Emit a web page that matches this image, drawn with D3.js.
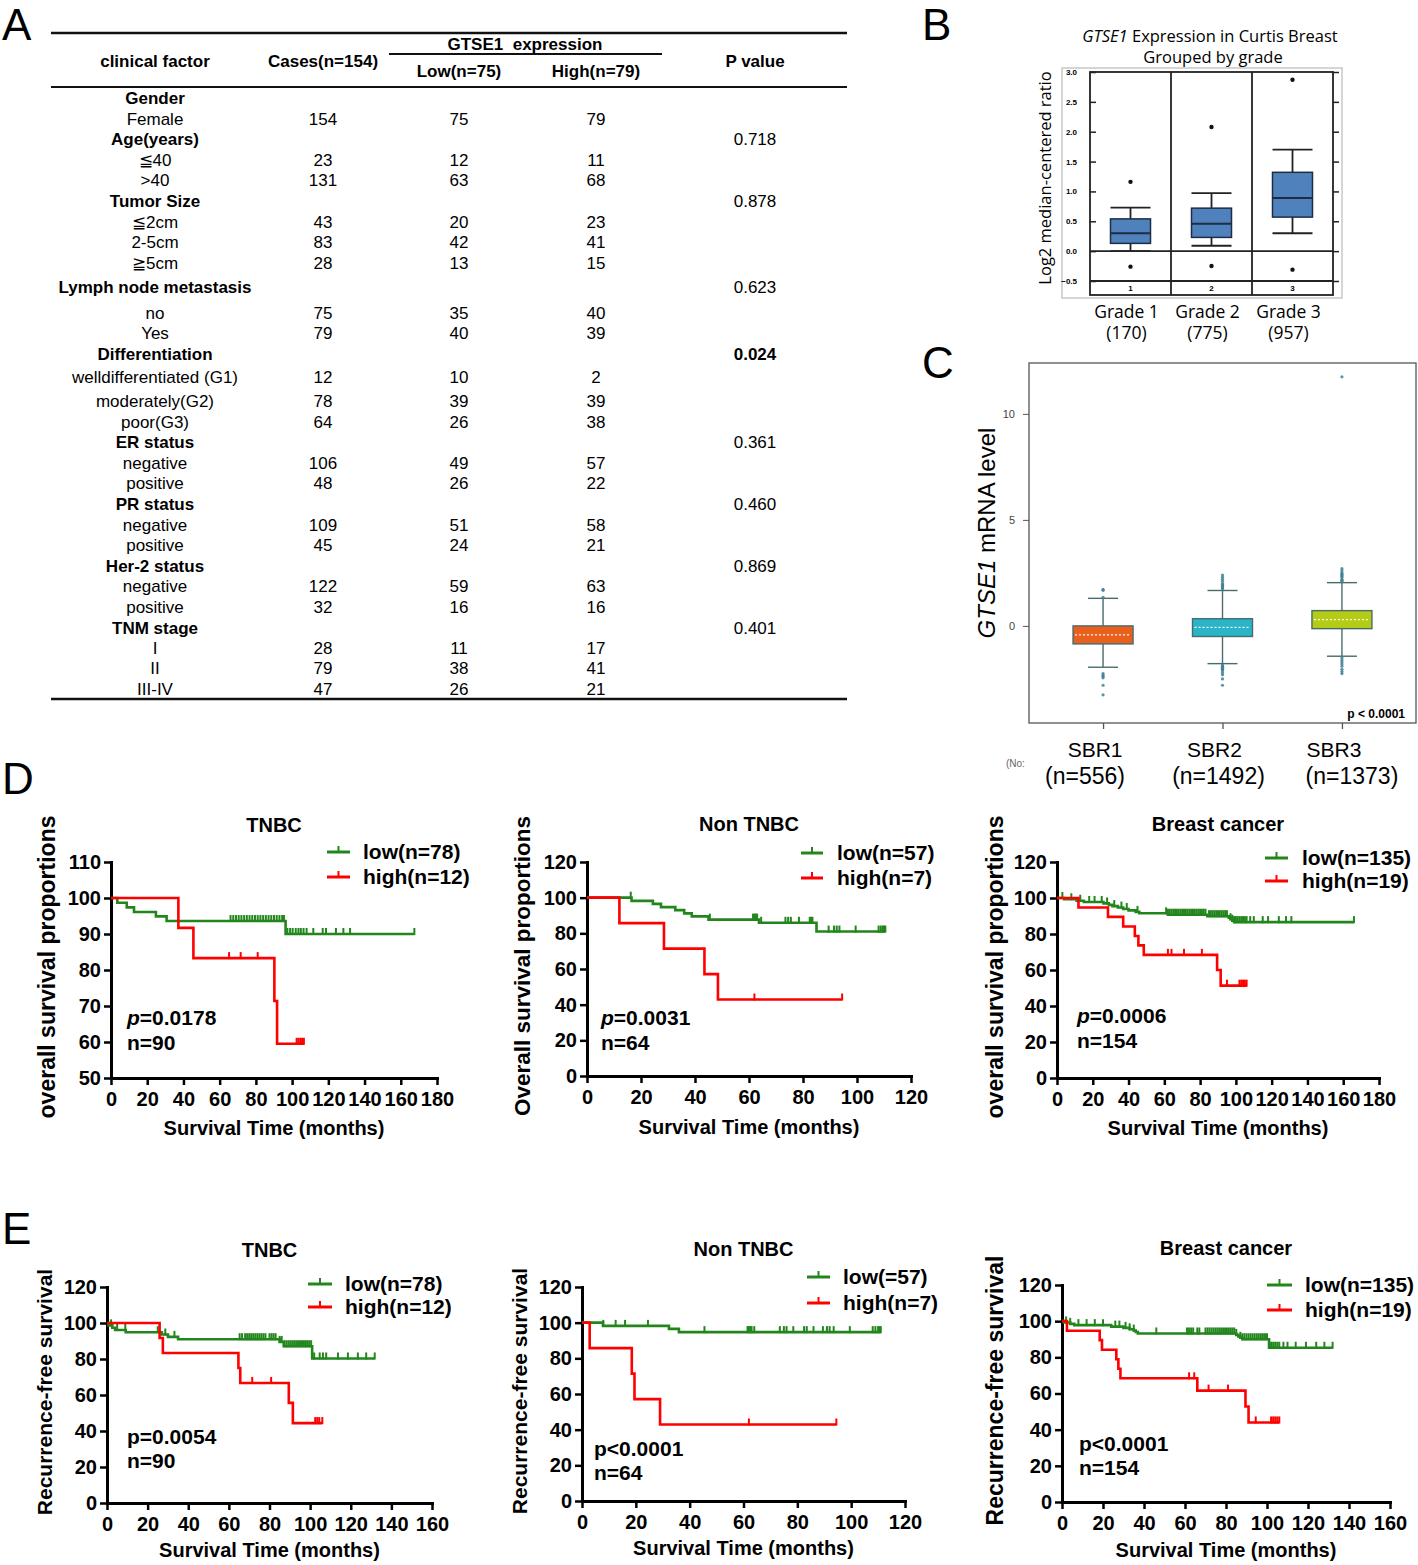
<!DOCTYPE html>
<html>
<head>
<meta charset="utf-8">
<script src="https://cdn.jsdelivr.net/npm/d3@7/dist/d3.min.js"></script>
<style>
  body { margin: 0; background: #fff; }
  svg { display: block; }
</style>
</head>
<body>
<svg width="1418" height="1565"></svg>
<script>
// ---------- panel A : clinical table ----------
var tableHeaders = ["clinical factor", "Cases(n=154)", "GTSE1\u00a0\u00a0expression", "Low(n=75)", "High(n=79)", "P value"];
var factorLabels = ["Gender","Female","Age(years)","\u226640",">40","Tumor Size","\u22662cm","2-5cm","\u22675cm",
  "Lymph node metastasis","no","Yes","Differentiation","welldifferentiated (G1)","moderately(G2)","poor(G3)",
  "ER status","negative","positive","PR status","negative","positive","Her-2 status","negative","positive",
  "TNM stage","I","II","III-IV"];
var factorIsGroup = [1,0,1,0,0,1,0,0,0,1,0,0,1,0,0,0,1,0,0,1,0,0,1,0,0,1,0,0,0];
var casesCol = ["","154","","23","131","","43","83","28","","75","79","","12","78","64","","106","48","","109","45","","122","32","","28","79","47"];
var lowCol   = ["","75","","12","63","","20","42","13","","35","40","","10","39","26","","49","26","","51","24","","59","16","","11","38","26"];
var highCol  = ["","79","","11","68","","23","41","15","","40","39","","2","39","38","","57","22","","58","21","","63","16","","17","41","21"];
var pValues  = ["","","0.718","","","0.878","","","","0.623","","","0.024","","","","0.361","","","0.460","","","0.869","","","0.401","","",""];

// ---------- panel B : Curtis breast, grouped by grade ----------
var gradeNames  = ["1", "2", "3"];
var gradeLabels = ["Grade 1", "Grade 2", "Grade 3"];
var gradeCounts = ["(170)", "(775)", "(957)"];
var gradeQ1  = [0.13, 0.23, 0.57];
var gradeMed = [0.30, 0.46, 0.89];
var gradeQ3  = [0.54, 0.72, 1.32];
var gradeLo  = [0.00, 0.09, 0.30];
var gradeHi  = [0.73, 0.97, 1.70];
var gradeOut = [[1.16, -0.26], [2.08, -0.25], [2.87, -0.31]];

// ---------- panel C : SBR grade ----------
var sbrLabels = ["SBR1", "SBR2", "SBR3"];
var sbrCounts = ["(n=556)", "(n=1492)", "(n=1373)"];
var sbrQ1  = [-0.85, -0.50, -0.13];
var sbrMed = [-0.42, -0.07, 0.30];
var sbrQ3  = [0.00, 0.34, 0.72];
var sbrLo  = [-1.95, -1.78, -1.43];
var sbrHi  = [1.30, 1.67, 2.04];
var sbrOut = [
  [1.72, 1.68, 1.35, -2.25, -2.32, -2.38, -2.45, -2.8, -3.25],
  [1.75, 1.8, 1.85, 1.9, 1.95, 2.0, 2.1, 2.2, 2.3, 2.4, -1.85, -1.9, -1.95, -2.0, -2.05, -2.1, -2.2, -2.3, -2.5, -2.8],
  [2.1, 2.15, 2.2, 2.3, 2.35, 2.4, 2.45, 2.5, 2.6, 2.7, 11.75, -1.5, -1.6, -1.7, -1.8, -1.9, -2.05, -2.15, -2.25]
];
var sbrColors = ["#e8601c", "#29b4c8", "#b4cc16"];

// ---------- panels D / E : Kaplan-Meier ----------
// drops: [month, survival % after the event]; cens: censored months
var osTnbcLowDrops  = [[3.5,98.7],[8.7,97.4],[12.7,96.1],[24.8,94.9],[30.7,93.6],[96.4,90.0]];
var osTnbcLowCens   = [66,67.5,69,70.5,72,73.5,75,76.5,78,79.5,81,82.5,84,85.5,87,88.5,90,91.5,93,94.5,95.5,
                       97.4,98.9,100.3,102,103.5,104.8,106.3,108,111.7,116.9,118.7,124.2,128.3,132,167.5];
var osTnbcHighDrops = [[37.2,91.7],[45.5,83.3],[90.2,71.4],[91.7,59.5]];
var osTnbcHighCens  = [65.2,71.6,81,102.5,103.5,104.5,105.5,106.5];

var osNonLowDrops   = [[16.5,98.2],[24.4,96.5],[27.4,94.7],[32.7,93.0],[36,91.2],[38.8,89.5],[45,87.7],[63.7,85.9],[85,81.0]];
var osNonLowCens    = [16.2,45.5,61.5,62,62.5,63,64.5,73.5,74.5,75.5,78.5,82.5,83,83.5,89.5,91.5,92.5,93.5,99.5,108,108.8,109.5,110,110.5];
var osNonHighDrops  = [[12,85.7],[28.5,71.4],[43.5,57.1],[48.5,42.9]];
var osNonHighCens   = [62,94.5];

var osAllLowDrops   = [[4,99.3],[11,98.5],[15,97.8],[26,97.0],[29,96.2],[31,95.5],[34,94.7],[37,93.9],[40,93.1],[44,92.3],
                       [46,91.5],[62,90.7],[84,89.9],[96,89.0],[97,88.2],[98,87.4],[99,86.6]];
var osAllLowCens    = [3,8,13,18,21,25,28,32,36,39,45,61,62,63,64,65,66,67,68,69,70,71,72,73,74,75,76,77,78,79,80,81,82,83,
                       85,86,87,88,89,90,91,92,93,94,95,97,98,99,100,101,102,103,104,105,106,108,110,115,118,124,128,131,166];
var osAllHighDrops  = [[12,94.7],[28.5,89.5],[37,84.2],[43.5,78.9],[45.5,73.7],[48.5,68.4],[89.5,60.0],[91.5,51.3]];
var osAllHighCens   = [62,64,71,81,95,102,103,104,105,106];

var rfsTnbcLowDrops  = [[0.8,98.7],[2.6,97.4],[4,96.1],[9.2,94.9],[27,93.6],[30,92.3],[35,91.0],[85,89.5],[87,87.1],[101,80.3]];
var rfsTnbcLowCens   = [2,5,9,25,28.7,33.2,65.3,66.5,68,69,70,71,72,73,74,75,76,77,78,80,81,82,83,85,86,87.5,88.5,89.5,
                        90.5,91.5,92.5,93.5,94.5,95.5,96.5,97.5,98.5,99.5,100.5,102,104.7,106.3,107.9,113.7,118.6,123.5,127.6,131.8];
var rfsTnbcHighDrops = [[25.9,91.7],[27.5,83.3],[64.7,75.0],[65.6,66.7],[89.5,55.6],[91.5,44.4]];
var rfsTnbcHighCens  = [71.5,80.8,102.5,103.5,104.5,106];

var rfsNonLowDrops   = [[7.8,98.2],[32.3,96.5],[36,94.7]];
var rfsNonLowCens    = [7.9,12.5,16,24.5,45.5,61.5,62,62.5,63,64,73.5,75,76,78.5,82.5,83.5,86,89.5,91,92,93.5,99.5,108,109,110,110.5,111];
var rfsNonHighDrops  = [[2.85,85.7],[18.5,71.4],[19.5,57.1],[29,42.9]];
var rfsNonHighCens   = [62,94.5];

var rfsAllLowDrops   = [[1,99.3],[4,98.5],[6,97.8],[24,97.0],[30,96.3],[33,95.5],[35,94.8],[36,94.0],[37,93.2],
                        [85,92.4],[86,91.6],[87,90.8],[88,90.0],[101,85.3]];
var rfsAllLowCens    = [2,4,8,12,16,20,26,28,31,33,35,46,61,62,63,64,66,67,70,71,72,73,74,75,76,77,78,79,80,81,82,83,84,85,
                        87,88,89,90,91,92,93,94,95,96,97,98,99,100,102,103,104,105,106,108,110,114,119,124,128,132];
var rfsAllHighDrops  = [[2.4,94.7],[18.4,89.5],[19.5,84.2],[26.5,78.9],[27.5,73.7],[28.5,68.4],[66,61.6],[89.5,52.8],[91,44.0]];
var rfsAllHighCens   = [62,64.5,71.5,81,94.5,102,103,104,105,106];

var kmTitles     = ["TNBC", "Non TNBC", "Breast cancer", "TNBC", "Non TNBC", "Breast cancer"];
var kmYLabels    = ["overall survival proportions", "Overall survival proportions", "overall survival proportions",
                    "Recurrence-free survival", "Recurrence-free survival", "Recurrence-free survival"];
var kmPText      = ["=0.0178", "=0.0031", "=0.0006", "=0.0054", "<0.0001", "<0.0001"];
var kmNText      = ["n=90", "n=64", "n=154", "n=90", "n=64", "n=154"];
var kmLowLabels  = ["low(n=78)", "low(n=57)", "low(n=135)", "low(n=78)", "low(=57)", "low(n=135)"];
var kmHighLabels = ["high(n=12)", "high(n=7)", "high(n=19)", "high(n=12)", "high(n=7)", "high(n=19)"];
var kmXMax       = [180, 120, 180, 160, 120, 160];
var kmYMin       = [50, 0, 0, 0, 0, 0];
var kmYMax       = [110, 120, 120, 120, 120, 120];
var kmYStep      = [10, 20, 20, 20, 20, 20];

var svg = d3.select("svg");
var FONT = "'Liberation Sans', Arial, Helvetica, sans-serif";
var SOFT = "'Open Sans', 'Noto Sans', sans-serif";
var GREEN = "#22861c", RED = "#ff0000";

// panel letters
var panelLetters = ["A", "B", "C", "D", "E"];
var letterPos = [[2, 40], [922, 40], [922, 378], [2, 794], [2, 1244]];
svg.selectAll("text.letter")
    .data(panelLetters)
  .enter().append("text")
    .attr("class", "letter")
    .attr("x", function(d, i) { return letterPos[i][0]; })
    .attr("y", function(d, i) { return letterPos[i][1]; })
    .attr("font-family", FONT)
    .attr("font-size", 44)
    .text(function(d) { return d; });

drawTable();
drawGrades();
drawSBR();

// layout of the six survival plots
var kmFrames = [
  {left: 111,  right: 437,  top: 862,  bottom: 1078, leg: [327, 350, 363, 852, 877],   stat: [127, 1018, 1043],  yl: [47, 23],  titleY: 825,  xlY: 1128, italicP: true},
  {left: 587,  right: 911,  top: 862,  bottom: 1076, leg: [801, 823, 837, 853, 878],   stat: [601, 1018, 1043],  yl: [522, 22.5], titleY: 824, xlY: 1127, italicP: true},
  {left: 1057, right: 1379, top: 862,  bottom: 1078, leg: [1265, 1288, 1302, 858, 881], stat: [1077, 1016, 1041], yl: [995, 23], titleY: 824,  xlY: 1128, italicP: true},
  {left: 107,  right: 432,  top: 1287, bottom: 1503, leg: [308, 332, 345, 1284, 1307], stat: [127, 1437, 1461],  yl: [45, 21],  titleY: 1250, xlY: 1550, italicP: false},
  {left: 582,  right: 905,  top: 1287, bottom: 1501, leg: [807, 830, 843, 1277, 1303], stat: [594, 1449, 1473],  yl: [520, 21], titleY: 1249, xlY: 1548, italicP: false},
  {left: 1062, right: 1390, top: 1285, bottom: 1502, leg: [1267, 1292, 1305, 1285, 1310], stat: [1079, 1444, 1468], yl: [995, 23], titleY: 1248, xlY: 1550, italicP: false}
];
var kmCurves = [
  [[osTnbcLowDrops, osTnbcLowCens], [osTnbcHighDrops, osTnbcHighCens]],
  [[osNonLowDrops, osNonLowCens], [osNonHighDrops, osNonHighCens]],
  [[osAllLowDrops, osAllLowCens], [osAllHighDrops, osAllHighCens]],
  [[rfsTnbcLowDrops, rfsTnbcLowCens], [rfsTnbcHighDrops, rfsTnbcHighCens]],
  [[rfsNonLowDrops, rfsNonLowCens], [rfsNonHighDrops, rfsNonHighCens]],
  [[rfsAllLowDrops, rfsAllLowCens], [rfsAllHighDrops, rfsAllHighCens]]
];
kmFrames.forEach(function(f, i) { drawKM(f, i); });

function drawTable() {
  var tableRowY = [98,119,139,160,180,201,222,242,263,287,313,333,354,377,401,422,442,463,483,504,525,545,566,586,607,628,648,668,689];
  var colX = [155, 323, 459, 596, 755];
  var tg = svg.append("g")
      .attr("font-family", FONT)
      .attr("font-size", 17)
      .attr("text-anchor", "middle");

  var rules = [[51, 847, 33, 2.5], [389, 662, 54, 2], [51, 847, 87, 2], [51, 847, 699, 2.5]];
  tg.selectAll("line.rule")
      .data(rules)
    .enter().append("line")
      .attr("x1", function(d) { return d[0]; })
      .attr("x2", function(d) { return d[1]; })
      .attr("y1", function(d) { return d[2]; })
      .attr("y2", function(d) { return d[2]; })
      .attr("stroke", "#111")
      .attr("stroke-width", function(d) { return d[3]; });

  var headPos = [[155, 67], [323, 67], [525, 50], [459, 77], [596, 77], [755, 67]];
  tg.selectAll("text.head")
      .data(tableHeaders)
    .enter().append("text")
      .attr("x", function(d, i) { return headPos[i][0]; })
      .attr("y", function(d, i) { return headPos[i][1]; })
      .attr("font-weight", "bold")
      .text(function(d) { return d; });

  factorLabels.forEach(function(lab, i) {
    var cells = [lab, casesCol[i], lowCol[i], highCol[i], pValues[i]];
    cells.forEach(function(c, j) {
      if (!c) return;
      var bold = (j === 0 && factorIsGroup[i]) || (j === 4 && +c < 0.05);
      tg.append("text")
          .attr("x", colX[j])
          .attr("y", tableRowY[i] + 6)
          .attr("font-weight", bold ? "bold" : null)
          .text(c);
    });
  });
}

function drawGrades() {
  var x = d3.scaleBand().domain(gradeNames).range([1090, 1333]);
  var y = d3.scaleLinear().domain([-0.5, 3]).range([281, 72]);
  var g = svg.append("g");
  var bw = 40;

  g.append("rect")
      .attr("x", 1062).attr("y", 68).attr("width", 280).attr("height", 230)
      .attr("fill", "none").attr("stroke", "#c8c8c8").attr("stroke-width", 1.5);

  var ay = g.append("g")
      .attr("transform", "translate(1090,0)")
      .call(d3.axisLeft(y).tickValues(d3.range(-0.5, 3.01, 0.5)).tickFormat(d3.format(".1f")).tickSize(-6).tickPadding(13));
  ay.select(".domain").remove();
  ay.attr("font-family", FONT).attr("font-size", 8).attr("font-weight", "bold");
  ay.selectAll("line").attr("stroke", "#222").attr("stroke-width", 1.5);

  var ar = g.append("g")
      .attr("transform", "translate(1333,0)")
      .call(d3.axisRight(y).tickValues(d3.range(-0.5, 3.01, 0.5)).tickFormat("").tickSize(6));
  ar.select(".domain").remove();
  ar.selectAll("line").attr("stroke", "#222").attr("stroke-width", 1.5);

  g.append("rect")
      .attr("x", 1090).attr("y", 72).attr("width", 243).attr("height", 223)
      .attr("fill", "none").attr("stroke", "#222").attr("stroke-width", 1.8);
  g.selectAll("line.sep")
      .data(gradeNames.slice(1))
    .enter().append("line")
      .attr("x1", function(d) { return x(d); }).attr("x2", function(d) { return x(d); })
      .attr("y1", 72).attr("y2", 295)
      .attr("stroke", "#222").attr("stroke-width", 1.8);
  g.selectAll("line.hz")
      .data([0, -0.5])
    .enter().append("line")
      .attr("x1", 1090).attr("x2", 1333)
      .attr("y1", function(d) { return y(d); }).attr("y2", function(d) { return y(d); })
      .attr("stroke", "#222").attr("stroke-width", 1.8);

  gradeNames.forEach(function(n, i) {
    var cx = x(n) + x.bandwidth() / 2;
    g.append("line").attr("x1", cx).attr("x2", cx).attr("y1", y(gradeLo[i])).attr("y2", y(gradeHi[i]))
        .attr("stroke", "#222").attr("stroke-width", 1.8);
    g.selectAll(null).data([gradeLo[i], gradeHi[i]]).enter().append("line")
        .attr("x1", cx - bw / 2).attr("x2", cx + bw / 2)
        .attr("y1", function(d) { return y(d); }).attr("y2", function(d) { return y(d); })
        .attr("stroke", "#222").attr("stroke-width", 1.8);
    g.append("rect")
        .attr("x", cx - bw / 2).attr("width", bw)
        .attr("y", y(gradeQ3[i])).attr("height", y(gradeQ1[i]) - y(gradeQ3[i]))
        .attr("fill", "#4f81bd").attr("stroke", "#1e2d44").attr("stroke-width", 1.5);
    g.append("line").attr("x1", cx - bw / 2).attr("x2", cx + bw / 2)
        .attr("y1", y(gradeMed[i])).attr("y2", y(gradeMed[i]))
        .attr("stroke", "#1e2d44").attr("stroke-width", 2);
    g.selectAll(null).data(gradeOut[i]).enter().append("circle")
        .attr("cx", cx).attr("cy", function(d) { return y(d); }).attr("r", 2.2).attr("fill", "#111");
    g.append("text").attr("x", cx).attr("y", 291)
        .attr("text-anchor", "middle").attr("font-family", FONT).attr("font-size", 8).attr("font-weight", "bold")
        .text(n);
    g.append("text").attr("x", cx - 4).attr("y", 318)
        .attr("text-anchor", "middle").attr("font-family", SOFT).attr("font-size", 17.5)
        .text(gradeLabels[i]);
    g.append("text").attr("x", cx - 4).attr("y", 339)
        .attr("text-anchor", "middle").attr("font-family", SOFT).attr("font-size", 17.5)
        .text(gradeCounts[i]);
  });

  var t = g.append("text").attr("x", 1210).attr("y", 42)
      .attr("text-anchor", "middle").attr("font-family", SOFT).attr("font-size", 16.5);
  t.append("tspan").attr("font-style", "italic").text("GTSE1");
  t.append("tspan").text(" Expression in Curtis Breast");
  g.append("text").attr("x", 1213).attr("y", 63)
      .attr("text-anchor", "middle").attr("font-family", SOFT).attr("font-size", 16.5)
      .text("Grouped by grade");
  g.append("text")
      .attr("transform", "translate(1045,178) rotate(-90)")
      .attr("text-anchor", "middle").attr("dy", "0.35em")
      .attr("font-family", SOFT).attr("font-size", 16.5)
      .text("Log2 median-centered ratio");
}

function drawSBR() {
  var x = d3.scalePoint().domain(sbrLabels).range([1029, 1416]).padding(0.62);
  var y = d3.scaleLinear().domain([-4.58, 12.4]).range([723, 363]);
  var g = svg.append("g");
  var bw = 60, cw = 30;

  g.append("rect")
      .attr("x", 1029).attr("y", 363).attr("width", 387).attr("height", 360)
      .attr("fill", "none").attr("stroke", "#555").attr("stroke-width", 1.3);

  var ay = g.append("g")
      .attr("transform", "translate(1029,0)")
      .call(d3.axisLeft(y).tickValues([0, 5, 10]).tickSize(6).tickPadding(8));
  ay.select(".domain").remove();
  ay.attr("font-family", FONT).attr("font-size", 11);
  ay.selectAll("text").attr("fill", "#444");
  ay.selectAll("line").attr("stroke", "#555");

  var ax = g.append("g")
      .attr("transform", "translate(0,723)")
      .call(d3.axisBottom(x).tickSize(6).tickFormat(""));
  ax.select(".domain").remove();
  ax.selectAll("line").attr("stroke", "#555").attr("stroke-width", 1.3);

  sbrLabels.forEach(function(s, i) {
    var cx = x(s);
    g.append("line").attr("x1", cx).attr("x2", cx).attr("y1", y(sbrLo[i])).attr("y2", y(sbrHi[i]))
        .attr("stroke", "#4a6b6b").attr("stroke-width", 1.4);
    g.selectAll(null).data([sbrLo[i], sbrHi[i]]).enter().append("line")
        .attr("x1", cx - cw / 2).attr("x2", cx + cw / 2)
        .attr("y1", function(d) { return y(d); }).attr("y2", function(d) { return y(d); })
        .attr("stroke", "#4a6b6b").attr("stroke-width", 1.4);
    g.append("rect")
        .attr("x", cx - bw / 2).attr("width", bw)
        .attr("y", y(sbrQ3[i])).attr("height", y(sbrQ1[i]) - y(sbrQ3[i]))
        .attr("fill", sbrColors[i]).attr("stroke", "#4a6b6b").attr("stroke-width", 1.4);
    g.append("line").attr("x1", cx - bw / 2 + 2).attr("x2", cx + bw / 2 - 2)
        .attr("y1", y(sbrMed[i])).attr("y2", y(sbrMed[i]))
        .attr("stroke", "#fff").attr("stroke-width", 1.2).attr("stroke-dasharray", "2,2");
    g.selectAll(null).data(sbrOut[i]).enter().append("circle")
        .attr("cx", cx).attr("cy", function(d) { return y(d); }).attr("r", 1.6)
        .attr("fill", "#3f7f95").attr("opacity", 0.85);
    g.append("text").attr("x", cx - 8).attr("y", 757)
        .attr("text-anchor", "middle").attr("font-family", FONT).attr("font-size", 21)
        .text(s);
    g.append("text").attr("x", cx - 18 + i * 14).attr("y", 784)
        .attr("text-anchor", "middle").attr("font-family", FONT).attr("font-size", 23)
        .text(sbrCounts[i]);
  });

  g.append("text").attr("x", 1006).attr("y", 767)
      .attr("font-family", FONT).attr("font-size", 10).attr("fill", "#666").text("(No:");
  g.append("text").attr("x", 1405).attr("y", 718).attr("text-anchor", "end")
      .attr("font-family", FONT).attr("font-size", 12).attr("font-weight", "bold").text("p < 0.0001");
  var t = g.append("text")
      .attr("transform", "translate(987,533) rotate(-90)")
      .attr("text-anchor", "middle").attr("dy", "0.35em")
      .attr("font-family", FONT).attr("font-size", 24);
  t.append("tspan").attr("font-style", "italic").text("GTSE1");
  t.append("tspan").text(" mRNA level");
}

function survivalAt(drops, t) {
  var v = 100;
  drops.forEach(function(d) { if (d[0] <= t) v = d[1]; });
  return v;
}

function drawKM(f, i) {
  var x = d3.scaleLinear().domain([0, kmXMax[i]]).range([f.left, f.right]);
  var y = d3.scaleLinear().domain([kmYMin[i], kmYMax[i]]).range([f.bottom, f.top]);
  var cx = (f.left + f.right) / 2;
  var g = svg.append("g").attr("font-family", FONT).attr("font-weight", "bold");

  var xAxis = g.append("g")
      .attr("transform", "translate(0," + f.bottom + ")")
      .call(d3.axisBottom(x).tickValues(d3.range(0, kmXMax[i] + 1, 20)).tickSize(7).tickSizeOuter(0).tickPadding(7));
  var yAxis = g.append("g")
      .attr("transform", "translate(" + f.left + ",0)")
      .call(d3.axisLeft(y).tickValues(d3.range(kmYMin[i], kmYMax[i] + 1, kmYStep[i])).tickSize(7).tickSizeOuter(0).tickPadding(3));
  [xAxis, yAxis].forEach(function(a) {
    a.attr("font-family", FONT).attr("font-size", 20).attr("font-weight", "bold");
    a.select(".domain").attr("stroke", "#000").attr("stroke-width", 3).attr("stroke-linecap", "square");
    a.selectAll(".tick line").attr("stroke", "#000").attr("stroke-width", 2.5);
    a.selectAll("text").attr("fill", "#000");
  });

  var line = d3.line()
      .x(function(d) { return x(d[0]); })
      .y(function(d) { return y(d[1]); })
      .curve(d3.curveStepAfter);
  var colors = [GREEN, RED];
  var labels = [kmLowLabels[i], kmHighLabels[i]];

  kmCurves[i].forEach(function(c, k) {
    var drops = c[0], cens = c[1];
    var end = d3.max(cens.concat(drops.map(function(d) { return d[0]; })));
    var pts = [[0, 100]].concat(drops).concat([[end, drops[drops.length - 1][1]]]);
    g.append("path")
        .attr("d", line(pts))
        .attr("fill", "none")
        .attr("stroke", colors[k])
        .attr("stroke-width", 2.6);
    g.selectAll(null)
        .data(cens)
      .enter().append("line")
        .attr("x1", function(t) { return x(t); })
        .attr("x2", function(t) { return x(t); })
        .attr("y1", function(t) { return y(survivalAt(drops, t)) + 1; })
        .attr("y2", function(t) { return y(survivalAt(drops, t)) - 6; })
        .attr("stroke", colors[k])
        .attr("stroke-width", 2);

    // legend
    var ly = f.leg[3 + k];
    g.append("line").attr("x1", f.leg[0]).attr("x2", f.leg[1]).attr("y1", ly).attr("y2", ly)
        .attr("stroke", colors[k]).attr("stroke-width", 3);
    g.append("line").attr("x1", (f.leg[0] + f.leg[1]) / 2).attr("x2", (f.leg[0] + f.leg[1]) / 2)
        .attr("y1", ly).attr("y2", ly - 6)
        .attr("stroke", colors[k]).attr("stroke-width", 2);
    g.append("text").attr("x", f.leg[2]).attr("y", ly).attr("dy", "0.35em")
        .attr("font-size", 21).text(labels[k]);
  });

  g.append("text").attr("x", cx).attr("y", f.titleY).attr("dy", "0.35em")
      .attr("text-anchor", "middle").attr("font-size", 20).text(kmTitles[i]);
  g.append("text").attr("x", cx).attr("y", f.xlY).attr("dy", "0.35em")
      .attr("text-anchor", "middle").attr("font-size", 20).text("Survival Time (months)");
  g.append("text")
      .attr("transform", "translate(" + f.yl[0] + "," + ((f.top + f.bottom) / 2 - 3) + ") rotate(-90)")
      .attr("text-anchor", "middle").attr("dy", "0.35em")
      .attr("font-size", f.yl[1]).text(kmYLabels[i]);

  var pt = g.append("text").attr("x", f.stat[0]).attr("y", f.stat[1]).attr("dy", "0.35em").attr("font-size", 21);
  pt.append("tspan").attr("font-style", f.italicP ? "italic" : null).text("p");
  pt.append("tspan").text(kmPText[i]);
  g.append("text").attr("x", f.stat[0]).attr("y", f.stat[2]).attr("dy", "0.35em")
      .attr("font-size", 21).text(kmNText[i]);
}
</script>
</body>
</html>
